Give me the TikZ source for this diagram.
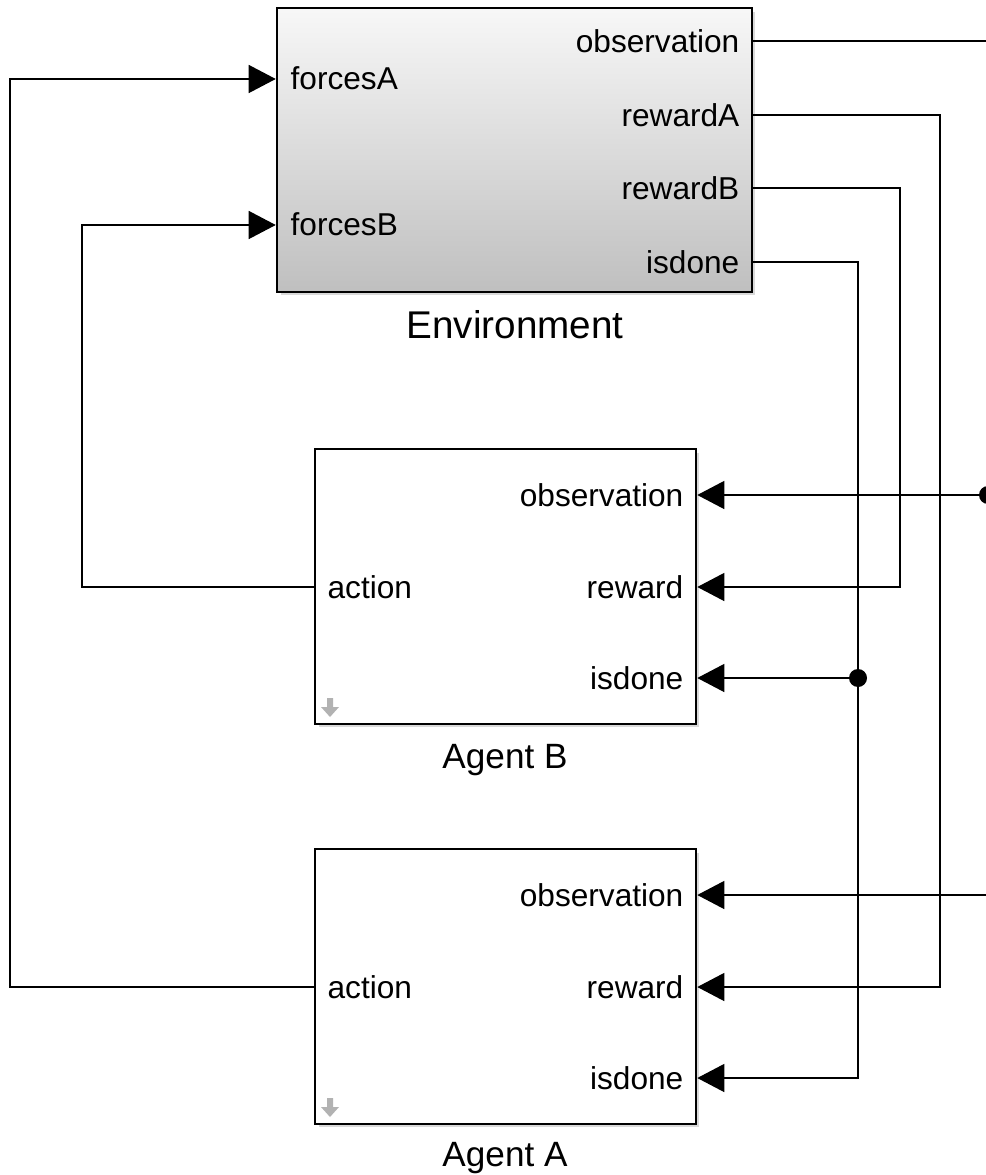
\documentclass[tikz,border=0pt]{standalone}
\usepackage{fontspec}
\setmainfont{Liberation Sans}
\usetikzlibrary{arrows.meta,shadows}

\begin{document}
\begin{tikzpicture}[x=0.02cm,y=-0.02cm,line width=0.75pt,
  >={Triangle[length=0.54cm,width=0.56cm]},
  block/.style={draw,line width=1.5pt,fill=white,
    drop shadow={shadow xshift=0.07cm,shadow yshift=-0.07cm,opacity=0.3}},
  port/.style={font=\fontsize{18}{20}\selectfont,inner sep=0pt,yshift=-0.23cm},
  title/.style={font=\fontsize{20}{24}\selectfont,inner sep=0pt}]
\useasboundingbox (0,0) rectangle (985,1175);
%environment
  \node[block,top color=white!97!black,bottom color=black!25,
    minimum width=9.5cm,minimum height=5.68cm] (env) at (514.5,150) {};
  \node[title,font=\fontsize{22}{26}\selectfont] (envname) at (515,325) {Environment};
  \coordinate (env-fa) at (env.west |- 0,79);
  \coordinate (env-fb) at (env.west |- 0,225);
  \coordinate (env-obs) at (env.east |- 0,41);
  \coordinate (env-ra) at (env.east |- 0,115);
  \coordinate (env-rb) at (env.east |- 0,188);
  \coordinate (env-done) at (env.east |- 0,262);
  \node[port,anchor=base west] at (290,78) {forcesA};
  \node[port,anchor=base west] at (290,224) {forcesB};
  \node[port,anchor=base east] at (740,41) {observation};
  \node[port,anchor=base east] at (740,115) {rewardA};
  \node[port,anchor=base east] at (740,188) {rewardB};
  \node[port,anchor=base east] at (740,262) {isdone};
%agent B
  \node[block,minimum width=7.62cm,minimum height=5.5cm] (agB) at (505.5,586.5) {};
  \node[title] (agBname) at (505,760) {Agent B};
  \coordinate (agB-act) at (agB.west |- 0,587);
  \coordinate (agB-obs) at (agB.east |- 0,495);
  \coordinate (agB-rew) at (agB.east |- 0,587);
  \coordinate (agB-done) at (agB.east |- 0,678);
  \node[port,anchor=base west] at (327,587) {action};
  \node[port,anchor=base east] at (684,495) {observation};
  \node[port,anchor=base east] at (684,587) {reward};
  \node[port,anchor=base east] at (684,678) {isdone};
%agent A
  \node[block,minimum width=7.62cm,minimum height=5.5cm] (agA) at (505.5,986.5) {};
  \node[title] (agAname) at (505,1158) {Agent A};
  \coordinate (agA-act) at (agA.west |- 0,987);
  \coordinate (agA-obs) at (agA.east |- 0,895);
  \coordinate (agA-rew) at (agA.east |- 0,987);
  \coordinate (agA-done) at (agA.east |- 0,1078);
  \node[port,anchor=base west] at (327,987) {action};
  \node[port,anchor=base east] at (684,895) {observation};
  \node[port,anchor=base east] at (684,987) {reward};
  \node[port,anchor=base east] at (684,1078) {isdone};
%icons
  \foreach \yy in {698,1098}
    \fill[black!30] (327,\yy) -- (333,\yy) -- (333,\yy+9) -- (339,\yy+9)
      -- (330,\yy+19) -- (321,\yy+9) -- (327,\yy+9) -- cycle;
%junctions
  \coordinate (obs-bus) at (988,495);
  \coordinate (done-bus) at (858,678);
%paths
  \draw (env-obs) -- (988,41) -- (988,895);
  \draw[->] (988,895) -- (agA-obs);
  \draw[->] (obs-bus) -- (agB-obs);
  \draw[->] (env-ra) -| (940,987) -- (agA-rew);
  \draw[->] (env-rb) -| (900,587) -- (agB-rew);
  \draw[->] (env-done) -| (858,1078) -- (agA-done);
  \draw[->] (done-bus) -- (agB-done);
  \draw[->] (agB-act) -| (82,225) -- (env-fb);
  \draw[->] (agA-act) -| (10,79) -- (env-fa);
  \fill (obs-bus) circle (0.18cm);
  \fill (done-bus) circle (0.18cm);
\end{tikzpicture}
\end{document}
